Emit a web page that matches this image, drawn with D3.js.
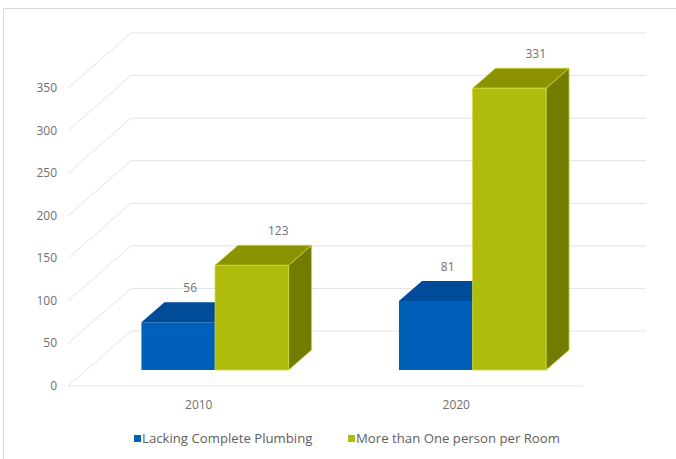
<!DOCTYPE html>
<html>
<head>
<meta charset="utf-8">
<script src="https://cdn.jsdelivr.net/npm/d3@7"></script>
<style>
  html, body { margin: 0; padding: 0; background: #fff; }
  svg { display: block; font-family: "Open Sans", "DejaVu Sans", sans-serif; }
</style>
</head>
<body>
<svg id="chart" width="676" height="459"></svg>
<script>
// Housing conditions, 2010 vs 2020
const years = ["2010", "2020"];
const seriesNames = ["Lacking Complete Plumbing", "More than One person per Room"];
const plumbing = [56, 81];
const crowding = [123, 331];
const yTicks = [0, 50, 100, 150, 200, 250, 300, 350];

const seriesValues = [plumbing, crowding];
const palette = [
  { front: "#005fb8", top: "#004c98", side: "#003f7c", edge: "none" },
  { front: "#b0bc0b", top: "#8b9300", side: "#727c00", edge: "#d3dc3c" }
];

const svg = d3.select("#chart");

// outer frame
svg.append("rect")
  .attr("x", 3.5).attr("y", 8.5).attr("width", 700).attr("height", 470)
  .attr("fill", "#fff").attr("stroke", "#d9d9d9");

// 3D oblique frame: front floor edge and depth vector
const x = d3.scaleBand().domain(years).range([68, 583]).padding(0);
const y = d3.scaleLinear().domain([0, 350]).range([386, 88]);
const DX = 63, DY = -55;
const P = (xf, v, z) => [xf + z * DX, y(v) + z * DY];

const grid = svg.append("g").attr("stroke", "#e3e3e3").attr("stroke-width", 1).attr("fill", "none");
const line = d3.line();
yTicks.forEach(t => {
  // back wall gridline
  grid.append("path").attr("d", line([P(68, t, 1), P(583, t, 1)]));
  // side wall gridline
  grid.append("path").attr("d", line([P(68, t, 0), P(68, t, 1)]));
});
// front floor edge
grid.append("path").attr("d", line([P(68, 0, 0), P(583, 0, 0)]));

// y tick labels
svg.append("g").selectAll("text").data(yTicks).join("text")
  .attr("x", 57).attr("y", d => y(d) + 4)
  .attr("text-anchor", "end")
  .attr("font-size", 12).attr("fill", "#707070")
  .text(d => d);

// category labels
svg.append("g").selectAll("text").data(years).join("text")
  .attr("x", d => x(d) + x.bandwidth() / 2 + 2).attr("y", 409)
  .attr("text-anchor", "middle")
  .attr("font-size", 12).attr("fill", "#707070")
  .text(d => d);

// bars (gap width 150%)
const barW = x.bandwidth() / 3.5;
const z0 = 0.29, z1 = 0.655;
const labelDepth = [0.48, 0.71];
const poly = pts => "M" + pts.map(p => p.join(",")).join("L") + "Z";

const bars = svg.append("g");
const labels = svg.append("g");
seriesValues.forEach((vals, si) => {
  const c = palette[si];
  years.forEach((yr, i) => {
    const v = vals[i];
    const xa = x(yr) + x.bandwidth() / 2 - barW + si * barW;
    const xb = xa + barW;
    const g = bars.append("g")
      .attr("stroke", c.edge).attr("stroke-width", 0.7).attr("stroke-linejoin", "round");
    g.append("path").attr("fill", c.side)
      .attr("d", poly([P(xb, 0, z0), P(xb, 0, z1), P(xb, v, z1), P(xb, v, z0)]));
    g.append("path").attr("fill", c.top)
      .attr("d", poly([P(xa, v, z0), P(xb, v, z0), P(xb, v, z1), P(xa, v, z1)]));
    g.append("path").attr("fill", c.front)
      .attr("d", poly([P(xa, 0, z0), P(xb, 0, z0), P(xb, v, z0), P(xa, v, z0)]));

    const lp = P((xa + xb) / 2, v, labelDepth[si]);
    labels.append("text")
      .attr("x", lp[0])
      .attr("y", P(xa, v, z1)[1] - 10)
      .attr("text-anchor", "middle")
      .attr("font-size", 12).attr("fill", "#707070")
      .text(v);
  });
});

// legend
const legendX = [134, 348];
const legend = svg.append("g");
seriesNames.forEach((name, si) => {
  legend.append("rect")
    .attr("x", legendX[si]).attr("y", 435).attr("width", 7).attr("height", 7)
    .attr("fill", palette[si].front);
  legend.append("text")
    .attr("x", legendX[si] + 8).attr("y", 443)
    .attr("font-size", 13.2).attr("fill", "#606060")
    .text(name);
});
</script>
</body>
</html>
